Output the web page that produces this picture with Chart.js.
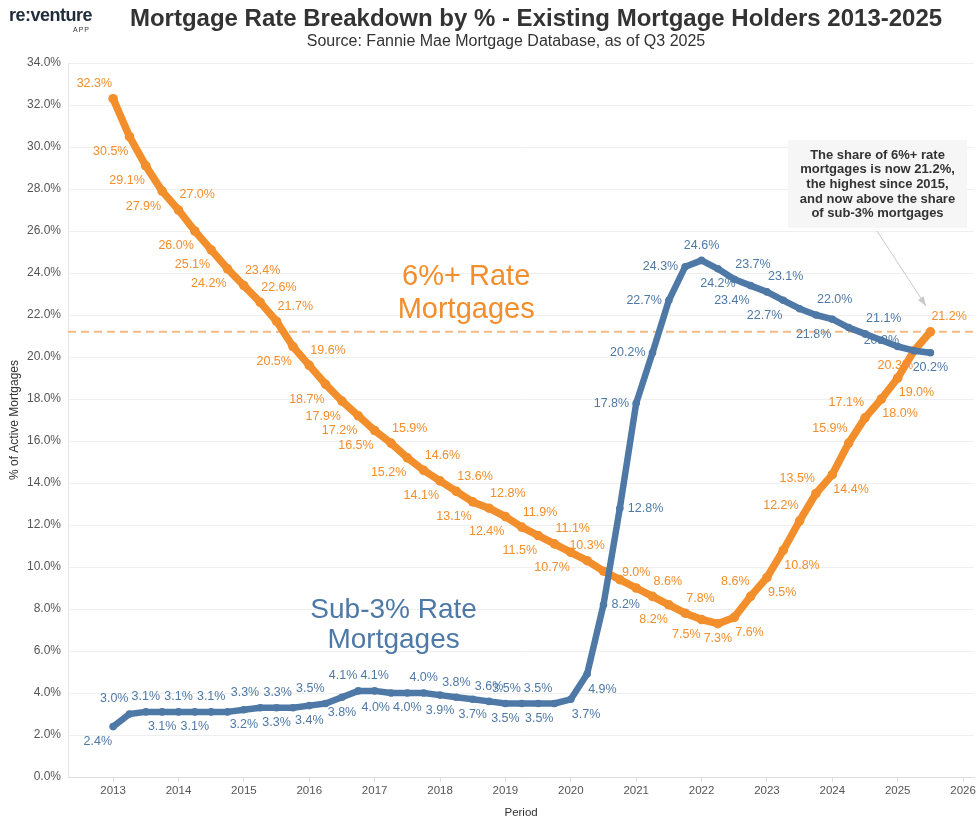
<!DOCTYPE html>
<html>
<head>
<meta charset="utf-8">
<title>Mortgage Rate Breakdown</title>
<script src="https://cdn.jsdelivr.net/npm/chart.js@4.4.1/dist/chart.umd.min.js"></script>
<style>
  html, body { margin: 0; padding: 0; background: #fff; }
  body { width: 979px; height: 825px; position: relative; overflow: hidden; font-family: "Liberation Sans", Arial, sans-serif; }
  #chart { position: absolute; left: 0; top: 0; }
  .logo { position: absolute; left: 9px; top: 5px; font-weight: bold; font-size: 18px; color: #1f2b3a; letter-spacing: -0.5px; }
  .logo span { position: absolute; left: 64px; top: 21px; font-size: 7px; font-weight: normal; letter-spacing: 1px; color: #333; }
  .title { position: absolute; top: 4px; left: 100px; width: 872px; text-align: center; font-weight: bold; font-size: 24px; color: #333; }
  .subtitle { position: absolute; top: 32px; left: 100px; width: 812px; text-align: center; font-size: 16px; color: #333; }
</style>
</head>
<body>
<canvas id="chart" width="979" height="825"></canvas>
<div class="logo">re:venture<span>APP</span></div>
<div class="title">Mortgage Rate Breakdown by % - Existing Mortgage Holders 2013-2025</div>
<div class="subtitle">Source: Fannie Mae Mortgage Database, as of Q3 2025</div>
<script>
// quarters, 2013 Q1 .. 2025 Q3
const periods = [
  '2013 Q1', '2013 Q2', '2013 Q3', '2013 Q4',
  '2014 Q1', '2014 Q2', '2014 Q3', '2014 Q4',
  '2015 Q1', '2015 Q2', '2015 Q3', '2015 Q4',
  '2016 Q1', '2016 Q2', '2016 Q3', '2016 Q4',
  '2017 Q1', '2017 Q2', '2017 Q3', '2017 Q4',
  '2018 Q1', '2018 Q2', '2018 Q3', '2018 Q4',
  '2019 Q1', '2019 Q2', '2019 Q3', '2019 Q4',
  '2020 Q1', '2020 Q2', '2020 Q3', '2020 Q4',
  '2021 Q1', '2021 Q2', '2021 Q3', '2021 Q4',
  '2022 Q1', '2022 Q2', '2022 Q3', '2022 Q4',
  '2023 Q1', '2023 Q2', '2023 Q3', '2023 Q4',
  '2024 Q1', '2024 Q2', '2024 Q3', '2024 Q4',
  '2025 Q1', '2025 Q2', '2025 Q3'
];

// % of active mortgages with a rate of 6% or more
const sixPlusShare = [
  32.3, 30.5, 29.1, 27.9,
  27.0, 26.0, 25.1, 24.2,
  23.4, 22.6, 21.7, 20.5,
  19.6, 18.7, 17.9, 17.2,
  16.5, 15.9, 15.2, 14.6,
  14.1, 13.6, 13.1, 12.8,
  12.4, 11.9, 11.5, 11.1,
  10.7, 10.3, 9.8, 9.4,
  9.0, 8.6, 8.2, 7.8,
  7.5, 7.3, 7.6, 8.6,
  9.5, 10.8, 12.2, 13.5,
  14.4, 15.9, 17.1, 18.0,
  19.0, 20.3, 21.2
];

// % of active mortgages with a rate under 3%
const subThreeShare = [
  2.4, 3.0, 3.1, 3.1,
  3.1, 3.1, 3.1, 3.1,
  3.2, 3.3, 3.3, 3.3,
  3.4, 3.5, 3.8, 4.1,
  4.1, 4.0, 4.0, 4.0,
  3.9, 3.8, 3.7, 3.6,
  3.5, 3.5, 3.5, 3.5,
  3.7, 4.9, 8.2, 12.8,
  17.8, 20.2, 22.7, 24.3,
  24.6, 24.2, 23.7, 23.4,
  23.1, 22.7, 22.3, 22.0,
  21.8, 21.4, 21.1, 20.8,
  20.5, 20.3, 20.2
];

const yearTicks = [2013, 2014, 2015, 2016, 2017, 2018, 2019, 2020, 2021, 2022, 2023, 2024, 2025, 2026];
const currentSixPlus = 21.2; // reference line

// where each value label sits (a=above, b=below, l/r=left/right, ''=no label)
const sixPlusLabelPos = [
  'al', 'bl', 'bl', 'bl',
  'ar', 'bl', 'bl', 'bl',
  'ar', 'ar', 'ar', 'bl',
  'ar', 'bl', 'bl', 'bl',
  'bl', 'ar', 'bl', 'ar',
  'bl', 'ar', 'bl', 'ar',
  'bl', 'ar', 'bl', 'ar',
  'bl', 'a', '', '',
  'a', 'ar', 'bl', 'ar',
  'bl', 'b', 'br', 'al',
  'br', 'br', 'al', 'al',
  'br', 'al', 'al', 'br',
  'br', 'bl', 'ar'
];
const subThreeLabelPos = [
  'bl', 'al', 'a', 'b',
  'a', 'b', 'a', '',
  'b', 'al', 'b', 'al',
  'b', 'al', 'b', 'al',
  'a', 'bl', 'b', 'a',
  'b', 'a', 'b', 'a',
  'b', 'al', 'a', 'bl',
  'br', 'br', 'r', 'r',
  'l', 'l', 'l', 'l',
  'a', 'b', 'ar', 'bl',
  'ar', 'bl', '', 'ar',
  'bl', '', 'ar', 'c',
  '', '', 'b'
];

const ORANGE = '#f28e2b';
const BLUE = '#4e79a7';

// "2015 Q3" -> 2015.5
function periodToX(p) {
  const [y, q] = p.split(' Q');
  return Number(y) + (Number(q) - 1) / 4;
}
const toPoints = vals => vals.map((v, i) => ({ x: periodToX(periods[i]), y: v }));

Chart.defaults.font.family = '"Liberation Sans", Arial, sans-serif';

const pointLabels = {
  id: 'pointLabels',
  beforeDatasetsDraw(chart) {
    const ctx = chart.ctx;
    ctx.save();
    ctx.font = '12.5px "Liberation Sans", Arial, sans-serif';
    ctx.textBaseline = 'middle';
    chart.data.datasets.forEach((ds, di) => {
      const meta = chart.getDatasetMeta(di);
      meta.data.forEach((pt, i) => {
        const pos = ds.labelPos[i];
        if (!pos) return;
        let x = pt.x, y = pt.y;
        let align = 'center';
        if (pos[0] === 'a') y -= 15;
        if (pos[0] === 'b') y += 15;
        if (pos === 'al' || pos === 'bl') { align = 'right'; x -= 1; }
        if (pos === 'ar' || pos === 'br') { align = 'left'; x += 1; }
        if (pos === 'l') { align = 'right'; x -= 7; }
        if (pos === 'r') { align = 'left'; x += 8; }
        ctx.textAlign = align;
        ctx.fillStyle = ds.borderColor;
        ctx.fillText(ds.data[i].y.toFixed(1) + '%', x, y);
      });
    });
    ctx.restore();
  }
};

const refLine = {
  id: 'refLine',
  beforeDatasetsDraw(chart) {
    const { ctx, chartArea, scales } = chart;
    const y = scales.y.getPixelForValue(currentSixPlus);
    ctx.save();
    ctx.strokeStyle = '#f4ba84';
    ctx.lineWidth = 2;
    ctx.setLineDash([8, 5]);
    ctx.beginPath();
    ctx.moveTo(chartArea.left, y);
    ctx.lineTo(chartArea.right, y);
    ctx.stroke();
    ctx.restore();
  }
};

const notes = {
  id: 'notes',
  afterDatasetsDraw(chart) {
    const { ctx, scales } = chart;
    const sx = scales.x, sy = scales.y;
    ctx.save();
    ctx.textAlign = 'center';
    ctx.textBaseline = 'middle';

    // series captions
    ctx.fillStyle = ORANGE;
    ctx.font = '29px "Liberation Sans", Arial, sans-serif';
    ctx.fillText('6%+ Rate', sx.getPixelForValue(2018.4), sy.getPixelForValue(23.8));
    ctx.fillText('Mortgages', sx.getPixelForValue(2018.4), sy.getPixelForValue(22.25));
    ctx.fillStyle = BLUE;
    ctx.font = '28px "Liberation Sans", Arial, sans-serif';
    ctx.fillText('Sub-3% Rate', sx.getPixelForValue(2017.29), sy.getPixelForValue(7.95));
    ctx.fillText('Mortgages', sx.getPixelForValue(2017.29), sy.getPixelForValue(6.5));

    // callout box
    ctx.fillStyle = '#f6f6f6';
    ctx.fillRect(788, 140, 179, 88);
    ctx.fillStyle = '#333';
    ctx.font = 'bold 13px "Liberation Sans", Arial, sans-serif';
    const lines = ['The share of 6%+ rate', 'mortgages is now 21.2%,', 'the highest since 2015,', 'and now above the share', 'of sub-3% mortgages'];
    lines.forEach((t, i) => ctx.fillText(t, 877.5, 155 + i * 14.7));

    // arrow to the latest 6%+ point
    const x0 = 877, y0 = 231, x1 = 926, y1 = 306;
    ctx.strokeStyle = '#c9c9c9';
    ctx.fillStyle = '#c9c9c9';
    ctx.lineWidth = 1;
    ctx.beginPath();
    ctx.moveTo(x0, y0);
    ctx.lineTo(x1, y1);
    ctx.stroke();
    const ang = Math.atan2(y1 - y0, x1 - x0);
    ctx.beginPath();
    ctx.moveTo(x1, y1);
    ctx.lineTo(x1 - 10 * Math.cos(ang - 0.35), y1 - 10 * Math.sin(ang - 0.35));
    ctx.lineTo(x1 - 10 * Math.cos(ang + 0.35), y1 - 10 * Math.sin(ang + 0.35));
    ctx.closePath();
    ctx.fill();
    ctx.restore();
  }
};

new Chart(document.getElementById('chart'), {
  type: 'line',
  data: {
    datasets: [
      {
        label: 'Sub-3% Rate Mortgages',
        data: toPoints(subThreeShare),
        labelPos: subThreeLabelPos,
        borderColor: BLUE,
        backgroundColor: BLUE,
        borderWidth: 6.5,
        pointRadius: 3.8,
        pointBorderWidth: 0,
        borderJoinStyle: 'round',
        borderCapStyle: 'round',
        tension: 0
      },
      {
        label: '6%+ Rate Mortgages',
        data: toPoints(sixPlusShare),
        labelPos: sixPlusLabelPos,
        borderColor: ORANGE,
        backgroundColor: ORANGE,
        borderWidth: 7.5,
        pointRadius: 4.8,
        pointBorderWidth: 0,
        borderJoinStyle: 'round',
        borderCapStyle: 'round',
        tension: 0
      }
    ]
  },
  options: {
    responsive: false,
    animation: false,
    layout: { padding: { top: 63, right: 3, left: 0, bottom: 0 } },
    plugins: {
      legend: { display: false },
      tooltip: { enabled: false }
    },
    scales: {
      x: {
        type: 'linear',
        min: 2012.31,
        max: 2026.17,
        afterBuildTicks: scale => { scale.ticks = yearTicks.map(v => ({ value: v })); },
        afterFit: scale => { scale.height = 48; },
        ticks: { color: '#555', font: { size: 11.5 }, padding: 2, maxRotation: 0, callback: v => String(v) },
        grid: { drawOnChartArea: false, drawTicks: true, tickLength: 5, color: '#dddddd' },
        border: { color: '#dddddd' },
        title: { display: true, text: 'Period', color: '#333', font: { size: 11.5 }, padding: { top: 0, bottom: 5 } }
      },
      y: {
        min: 0,
        max: 34,
        afterFit: scale => { scale.width = 68; },
        ticks: { stepSize: 2, color: '#555', font: { size: 12 }, padding: 7, callback: v => v.toFixed(1) + '%' },
        grid: { color: '#efefef', drawTicks: false },
        border: { color: '#e6e6e6' },
        title: { display: true, text: '% of Active Mortgages', color: '#333', font: { size: 12 }, padding: { top: 7, bottom: 0 } }
      }
    }
  },
  plugins: [refLine, pointLabels, notes]
});
</script>
</body>
</html>
